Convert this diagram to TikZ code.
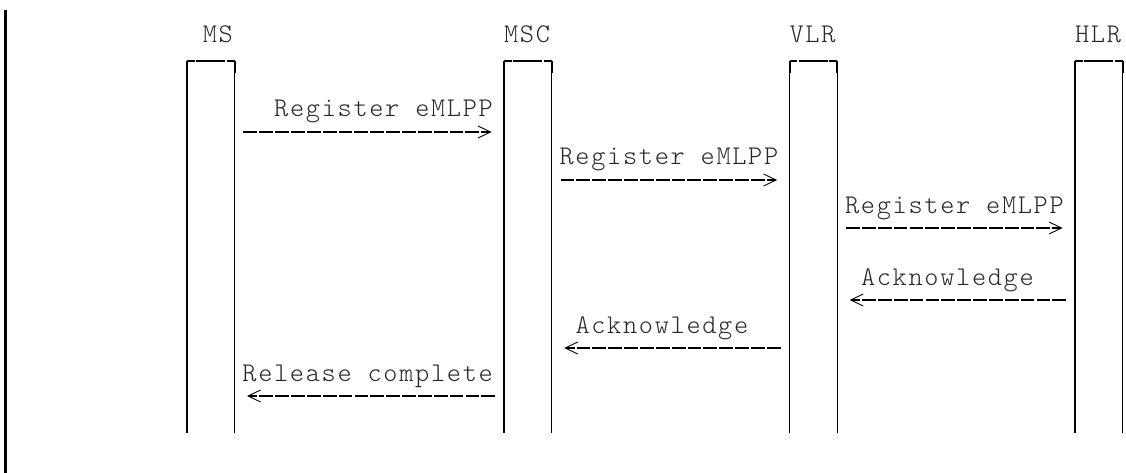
\documentclass[tikz,border=0pt]{standalone}
\usepackage{fontspec}
\newfontfamily\courlike{lmmonolt10-regular.otf}[LetterSpace=6.24]
\usetikzlibrary{arrows.meta,calc}
\begin{document}
\begin{tikzpicture}[x=1pt,y=-1pt,
  life/.style={minimum width=47.6pt,minimum height=372pt,inner sep=0pt,outer sep=0pt,draw=none},
  lifeline/.style={line width=1.3pt},
  lifetop/.style={line width=2.1pt,dash pattern=on 7.6pt off 1.6pt on 29pt off 1.6pt on 8pt off 0pt},
  corner/.style={line width=2pt},
  lbl/.style={font=\courlike\fontsize{27}{30}\selectfont,inner sep=0pt,outer sep=0pt,text=black!85},
  msg/.style={line width=2.6pt,dash pattern=on 13.8pt off 2.06pt,shorten <=8.9pt,shorten >=10pt,
    -{Straight Barb[length=12.5pt,width=12pt,line width=0.9pt,sep=2.5pt]}}
]
\useasboundingbox (0,0) rectangle (1126,473);
% left margin bar
\draw[line width=2.7pt] (5.3,10) -- (5.3,473);
% lifelines
\node[life] (ms)  at (210.75,247) {};
\node[life] (msc) at (527.9,247) {};
\node[life] (vlr) at (813.4,247) {};
\node[life] (hlr) at (1098.9,247) {};
\foreach \n in {ms,msc,vlr,hlr}{
  \draw[lifeline] (\n.north west) -- (\n.south west);
  \draw[lifeline] (\n.north east) -- (\n.south east);
  \draw[corner] (\n.north west) -- ($(\n.north west)+(0,12)$);
  \draw[corner] (\n.north east) -- ($(\n.north east)+(0,12)$);
  \draw[lifetop] (\n.north west) -- (\n.north east);
}
% headers
\node[lbl,anchor=base west] (lms)  at (202.8,43) {MS};
\node[lbl,anchor=base west] (lmsc) at (504.1,43) {MSC};
\node[lbl,anchor=base west] (lvlr) at (789.6,43) {VLR};
\node[lbl,anchor=base west] (lhlr) at (1075.1,43) {HLR};
% messages
\node[lbl,anchor=base west] (t1) at (274.2,117) {Register eMLPP};
\draw[msg] (ms.east |- 0,132) -- (msc.west |- 0,132);
\node[lbl,anchor=base west] (t2) at (559.6,165) {Register eMLPP};
\draw[msg] (msc.east |- 0,180) -- (vlr.west |- 0,180);
\node[lbl,anchor=base west] (t3) at (845.1,213) {Register eMLPP};
\draw[msg] (vlr.east |- 0,228) -- (hlr.west |- 0,228);
\node[lbl,anchor=base west] (t4) at (861.0,285) {Acknowledge};
\draw[msg] (hlr.west |- 0,300) -- (vlr.east |- 0,300);
\node[lbl,anchor=base west] (t5) at (575.5,333) {Acknowledge};
\draw[msg] (vlr.west |- 0,348) -- (msc.east |- 0,348);
\node[lbl,anchor=base west] (t6) at (242.4,381) {Release complete};
\draw[msg] (msc.west |- 0,396) -- (ms.east |- 0,396);
\end{tikzpicture}
\end{document}
